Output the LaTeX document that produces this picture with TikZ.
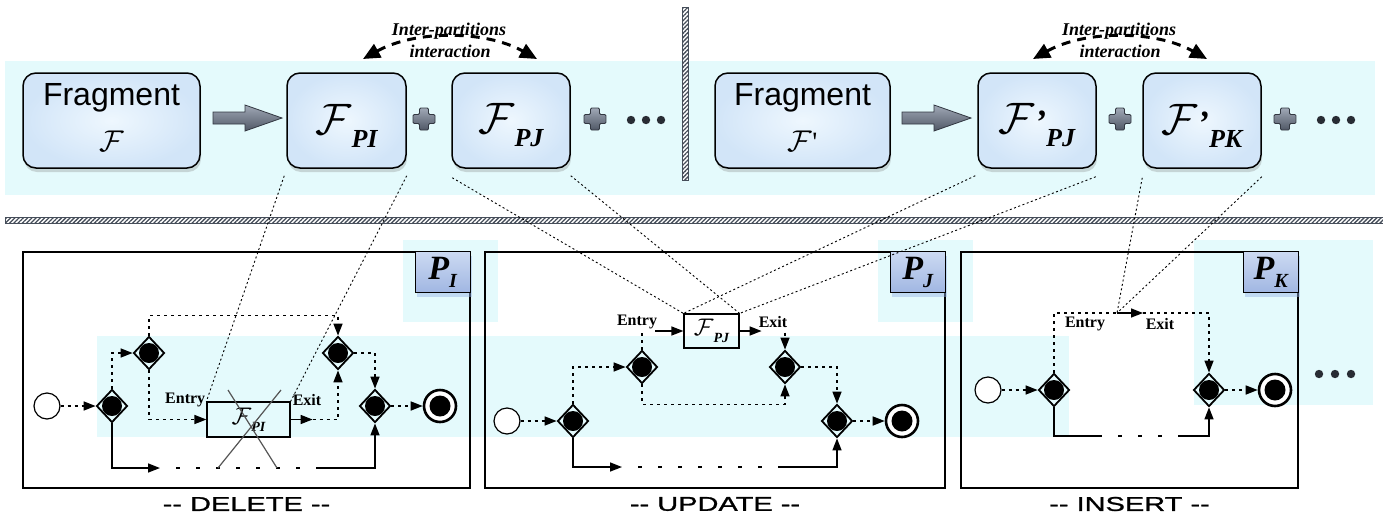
\documentclass[tikz,border=0pt]{standalone}
\usepackage{fontspec}
\setmainfont{Liberation Serif}
\setsansfont{Liberation Sans}
\newfontfamily\capfont[FakeStretch=1.45,FakeBold=1.2]{Liberation Sans}
\usetikzlibrary{arrows.meta,shapes.geometric,shadows,patterns.meta,calc}
\definecolor{bandc}{RGB}{228,250,252}
\definecolor{boxin}{RGB}{238,247,254}
\definecolor{boxout}{RGB}{210,229,248}
\definecolor{plt}{RGB}{204,218,242}
\definecolor{plb}{RGB}{160,182,226}
\definecolor{arrt}{RGB}{160,168,182}
\definecolor{arrb}{RGB}{80,88,102}
\definecolor{dotc}{RGB}{40,44,52}
\definecolor{hatchc}{RGB}{70,78,90}
\newcommand\calF[1]{\scalebox{#1}{$\mathcal{F}$}}
\newcommand\sbi[2]{{\fontsize{#1}{#1}\selectfont\bfseries\itshape #2}}
\tikzset{
  ubox/.style={draw=black, line width=1.5pt, rounded corners=13pt, inner color=boxin, outer color=boxout,
     minimum height=95pt, inner sep=0pt, drop shadow={opacity=0.3, shadow xshift=1pt, shadow yshift=-4pt}},
  barrow/.style={draw={rgb,255:red,50;green,55;blue,65}, line width=0.8pt, top color=arrt, bottom color=arrb},
  bplus/.style={draw={rgb,255:red,50;green,55;blue,65}, line width=0.8pt, rounded corners=1.2pt, top color=arrt, bottom color=arrb},
  itext/.style={font=\fontsize{18}{20}\selectfont\bfseries\itshape, inner sep=0pt},
  iarc/.style={line width=3pt, dash pattern=on 9pt off 7pt, {Triangle[length=17pt,width=15pt]}-{Triangle[length=17pt,width=15pt]}},
  panel/.style={draw, line width=1.3pt, minimum height=236pt, inner sep=0pt},
  plab/.style={draw, line width=1pt, top color=plt, bottom color=plb, minimum width=55pt, minimum height=41pt, inner sep=0pt,
     drop shadow={fill={rgb,255:red,150;green,180;blue,230}, opacity=0.45, shadow xshift=2pt, shadow yshift=-4pt}},
  gw/.style={diamond, draw, line width=1.8pt, minimum width=31pt, minimum height=33pt, inner sep=0pt,
     path picture={\fill[black] (path picture bounding box.center) circle (10pt);}},
  startev/.style={circle, draw, line width=1.2pt, minimum size=26pt, inner sep=0pt, fill=white},
  endev/.style={circle, draw, line width=2.6pt, minimum size=32pt, inner sep=0pt, fill=white,
     path picture={\fill[black] (path picture bounding box.center) circle (10.5pt);}},
  lbox/.style={draw, line width=1.2pt, inner sep=0pt},
  flowd/.style={line width=1.5pt, dash pattern=on 3pt off 4pt},
  flows/.style={line width=1.5pt},
  loose/.style={line width=1.5pt, dash pattern=on 4pt off 16pt, dash phase=4pt},
  arrowed/.style={-{Triangle[length=12pt,width=9pt]}},
  conn/.style={line width=0.9pt, dash pattern=on 2pt off 2.5pt},
  elab/.style={font=\fontsize{16}{16}\selectfont\bfseries, inner sep=0pt},
  captext/.style={font=\capfont\fontsize{20}{20}\selectfont, inner sep=0pt},
  xline/.style={draw={rgb,255:red,85;green,85;blue,85}, line width=1.2pt},
  hatchbar/.style={fill=white, draw=hatchc, line width=0.5pt,
     postaction={pattern={Lines[angle=45,distance=3pt,line width=1.3pt]}, pattern color=hatchc}}
}
\newcommand\plusat[2]{\begin{scope}[shift={(#1,#2)}]
  \draw[bplus] (-4.5,-11) -- (4.5,-11) -- (4.5,-4.5) -- (11,-4.5) -- (11,4.5) -- (4.5,4.5) -- (4.5,11) -- (-4.5,11) -- (-4.5,4.5) -- (-11,4.5) -- (-11,-4.5) -- (-4.5,-4.5) -- cycle;
\end{scope}}
\newcommand\bigsub[2]{\rule{0pt}{40pt}\calF{4.4}#1\raisebox{-13pt}{\sbi{26}{#2}}}
\begin{document}
\begin{tikzpicture}[x=1pt,y=-1pt]
\useasboundingbox (0,0) rectangle (1383,517);
% backgrounds
\fill[bandc] (5,61) rectangle (1375,195);
\fill[bandc] (97,336) rectangle (1069,437);
\fill[bandc] (403,240) rectangle (498,322);
\fill[bandc] (878,240) rectangle (973,322);
\fill[bandc] (1194,240) rectangle (1373,405);
% hatched separators
\path[hatchbar] (682,7) rectangle (688,180);
\path[hatchbar] (5,217) rectangle (1383,223);
% upper boxes
\node[ubox, minimum width=177pt] (frag1) at (111.5,120.5) {};
\node[font=\sffamily\fontsize{32}{34}\selectfont, inner sep=0pt] (fr1t) at ($(frag1.center)+(0,-23)$) {Fragment};
\node[inner sep=0pt] (fr1f) at ($(frag1.center)+(0,21)$) {\calF{3.0}};
\node[ubox, minimum width=119pt] (fpi) at (346.5,120.5) {\bigsub{}{PI}};
\node[ubox, minimum width=118pt] (fpj) at (511,120.5) {\bigsub{}{PJ}};
\node[ubox, minimum width=175pt] (frag2) at (802.5,120.5) {};
\node[font=\sffamily\fontsize{32}{34}\selectfont, inner sep=0pt] (fr2t) at ($(frag2.center)+(0,-23)$) {Fragment};
\node[inner sep=0pt] (fr2f) at ($(frag2.center)+(0,21)$) {\calF{3.0}{\fontsize{28}{28}\selectfont\textquotesingle}};
\node[ubox, minimum width=118pt] (fpj2) at (1037,120.5) {\bigsub{\sbi{34}{'}}{PJ}};
\node[ubox, minimum width=118pt] (fpk2) at (1202,120.5) {\bigsub{\sbi{34}{'}}{PK}};
% block arrows
\draw[barrow] (213,112) -- (245,112) -- (245,105) -- (282,118) -- (245,131) -- (245,124) -- (213,124) -- cycle;
\draw[barrow] (902,112) -- (934,112) -- (934,105) -- (971,118) -- (934,131) -- (934,124) -- (902,124) -- cycle;
% plus signs and dots
\plusat{424}{119}
\plusat{595}{119}
\plusat{1120}{119}
\plusat{1285}{119}
\foreach \x in {631,646,661,1321,1336,1351} \fill[dotc] (\x,120) circle (4.2pt);
% inter-partition interactions
\coordinate (al1) at (363,59); \coordinate (ar1) at (537,59);
\draw[iarc] (al1) .. controls (415,30) and (485,30) .. (ar1);
\node[itext] (ip1) at (449,31) {Inter-partitions};
\node[itext] (ia1) at (450,51) {interaction};
\coordinate (al2) at (1033,59); \coordinate (ar2) at (1207,59);
\draw[iarc] (al2) .. controls (1085,30) and (1155,30) .. (ar2);
\node[itext] (ip2) at (1119,31) {Inter-partitions};
\node[itext] (ia2) at (1120,51) {interaction};
% panels
\node[panel, minimum width=447pt] (pan1) at (246.5,370) {};
\node[panel, minimum width=460pt] (pan2) at (715,370) {};
\node[panel, minimum width=337pt] (pan3) at (1129.5,370) {};
\node[plab, anchor=north east] (pl1) at (pan1.north east) {\sbi{34}{P}\raisebox{-8pt}{\sbi{20}{I}}};
\node[plab, anchor=north east] (pl2) at (pan2.north east) {\sbi{34}{P}\raisebox{-8pt}{\sbi{20}{J}}};
\node[plab, anchor=north east] (pl3) at (pan3.north east) {\sbi{34}{P}\raisebox{-8pt}{\sbi{20}{K}}};
% ---- panel 1: DELETE
\node[startev] (s1) at (47,406) {};
\node[gw] (g11) at (112,406) {};
\node[gw] (g12) at (149,353) {};
\node[gw] (g13) at (338,353) {};
\node[gw] (g14) at (375,406) {};
\node[endev] (e1) at (440,406) {};
\node[lbox, minimum width=83pt, minimum height=35pt] (b1) at (248.5,419.5) {\calF{2.4}\raisebox{-7pt}{\sbi{14}{PI}}};
\draw[flowd,arrowed] (s1) -- (g11);
\draw[flowd,arrowed] (g11.north) |- (g12.west);
\draw[flowd,arrowed] (g12.north) -- ++(0,-20) -| (g13.north);
\draw[flowd,arrowed] (g12.south) |- (b1.west);
\draw[flows,arrowed] (b1.east) -- ++(22,0) coordinate (x1);
\draw[flowd,arrowed] (x1) -| (g13.south);
\draw[flowd,arrowed] (g13.east) -| (g14.north);
\draw[flowd,arrowed] (g14.east) -- (e1);
\coordinate (k11) at (160,468); \coordinate (k12) at (318,468);
\draw[flows,arrowed] (g11.south) |- (k11);
\draw[loose] (k11) -- (k12);
\draw[flows,arrowed] (k12) -| (g14.south);
\node[elab, anchor=east] (en1) at ($(b1.north west)+(-1,-1)$) {Entry};
\node[elab, anchor=west] (ex1) at ($(b1.north east)+(2,-1)$) {Exit};
\draw[xline] (218,468) -- (281,390);
\draw[xline] (228,390) -- (277,468);
% ---- panel 2: UPDATE
\node[startev] (s2) at (507,421) {};
\node[gw] (g21) at (573,421) {};
\node[gw] (g22) at (642,367) {};
\node[gw] (g23) at (785,367) {};
\node[gw] (g24) at (837,421) {};
\node[endev] (e2) at (902,421) {};
\node[lbox, minimum width=55pt, minimum height=34pt] (b2) at (711.5,331) {\calF{2.4}\raisebox{-7pt}{\sbi{14}{PJ}}};
\draw[flowd,arrowed] (s2) -- (g21);
\draw[flowd,arrowed] (g21.north) |- (g22.west);
\draw[flowd] (g22.north) -- (g22.north |- b2.west);
\coordinate (en2c) at (655,331);
\draw[flows,arrowed] (en2c) -- (b2.west);
\draw[flows,arrowed] (b2.east) -- ++(22,0);
\draw[flowd,arrowed] ($(g23.north)+(0,-17)$) -- (g23.north);
\draw[flowd,arrowed] (g22.south) -- ++(0,20) -| (g23.south);
\draw[flowd,arrowed] (g23.east) -| (g24.north);
\draw[flowd,arrowed] (g24.east) -- (e2);
\coordinate (k21) at (622,467); \coordinate (k22) at (780,467);
\draw[flows,arrowed] (g21.south) |- (k21);
\draw[loose] (k21) -- (k22);
\draw[flows,arrowed] (k22) -| (g24.south);
\node[elab] (en2) at (637,322) {Entry};
\node[elab] (ex2) at (773,322) {Exit};
% ---- panel 3: INSERT
\node[startev] (s3) at (988,390) {};
\node[gw] (g31) at (1054,390) {};
\node[gw] (g32) at (1209,390) {};
\node[endev] (e3) at (1275,390) {};
\coordinate (m3) at (1117,313); \coordinate (n3) at (1143,313);
\draw[flowd,arrowed] (s3) -- (g31);
\draw[flowd] (g31.north) |- (m3);
\draw[flows,arrowed] (m3) -- (n3);
\draw[flowd,arrowed] (n3) -| (g32.north);
\draw[flowd,arrowed] (g32.east) -- (e3);
\coordinate (k31) at (1102,436); \coordinate (k32) at (1182,436);
\draw[flows] (g31.south) |- (k31);
\draw[loose] (k31) -- (k32);
\draw[flows,arrowed] (k32) -| (g32.south);
\node[elab] (en3) at (1085,324) {Entry};
\node[elab] (ex3) at (1160,324) {Exit};
\foreach \x in {1319,1335,1351} \fill[dotc] (\x,374) circle (4.2pt);
% captions
\node[captext] (cap1) at (246.5,504) {-{}- DELETE -{}-};
\node[captext] (cap2) at (715,504) {-{}- UPDATE -{}-};
\node[captext] (cap3) at (1129.5,504) {-{}- INSERT -{}-};
% connectors from fragments to partitions
\draw[conn] ($(fpi.south west)+(-2,7)$) -- (b1.north west);
\draw[conn] ($(fpi.south east)+(0,7)$) -- (b1.north east);
\draw[conn] ($(fpj.south west)+(1,9)$) -- (b2.north west);
\draw[conn] ($(fpj.south east)+(0,7)$) -- (b2.north east);
\draw[conn] ($(fpj2.south west)+(-2,7)$) -- (b2.north west);
\draw[conn] ($(fpj2.south east)+(-1,8)$) -- (b2.north east);
\draw[conn] ($(fpk2.south west)+(0,9)$) -- (m3);
\draw[conn] ($(fpk2.south east)+(0,8)$) -- (m3);
\end{tikzpicture}
\end{document}
